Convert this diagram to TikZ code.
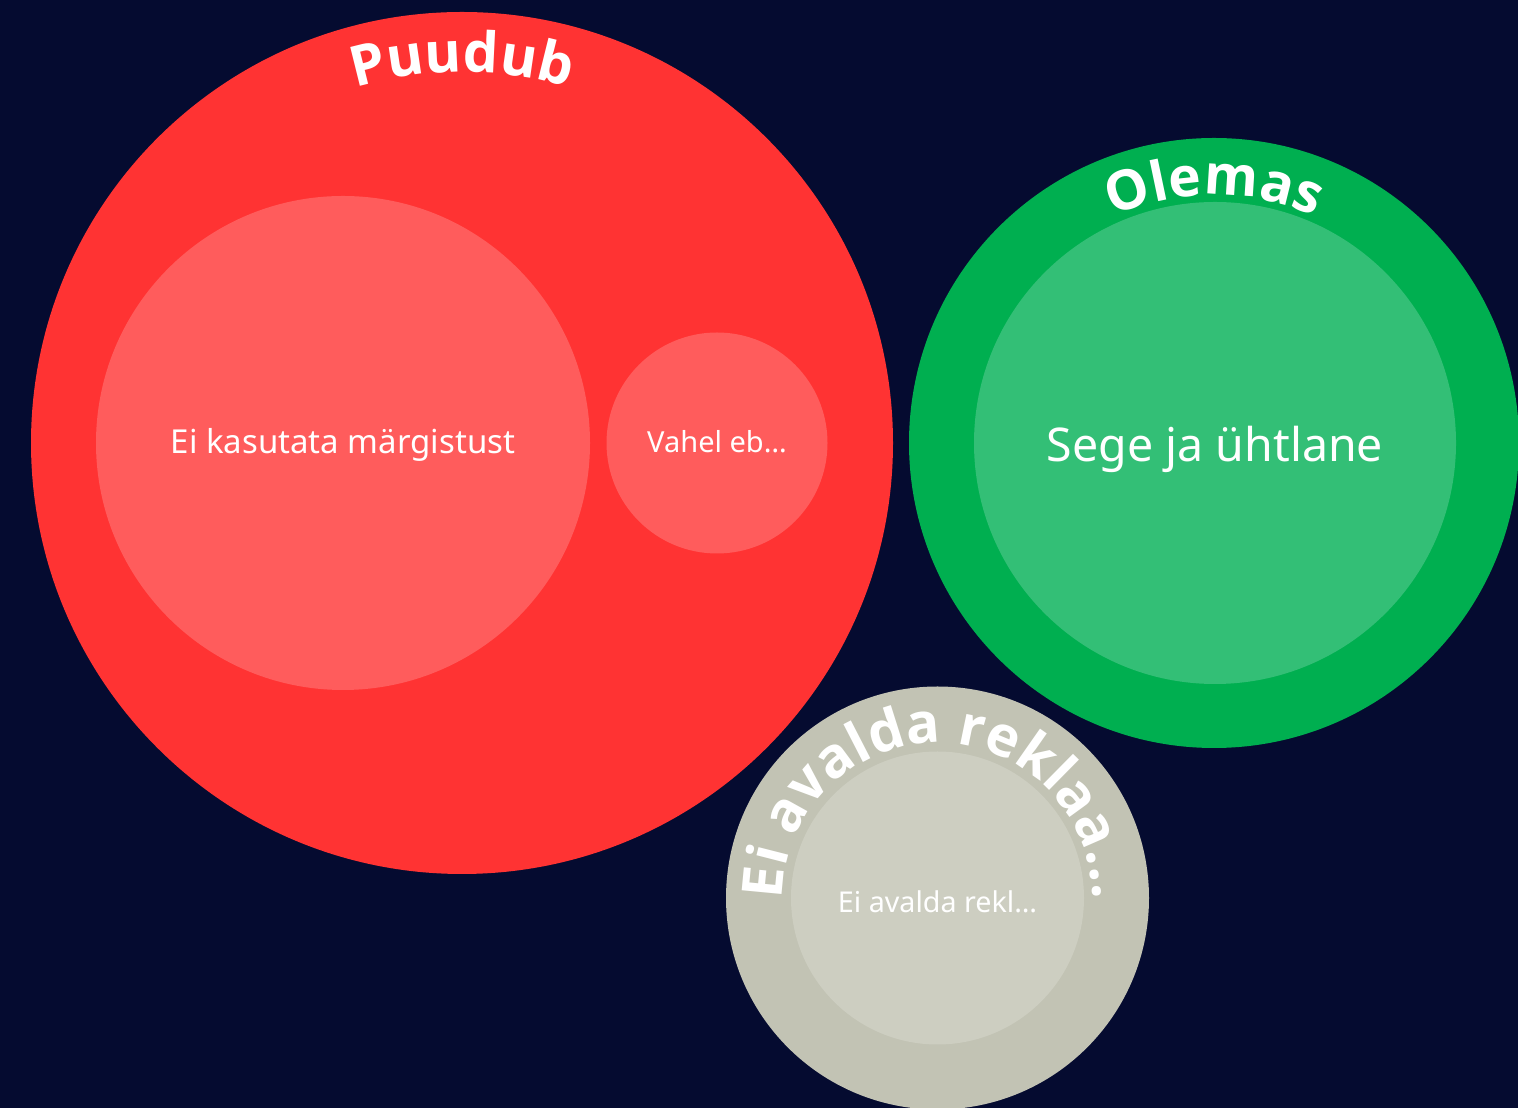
\documentclass[tikz,border=0pt]{standalone}
\usepackage{fontspec}
\setmainfont{Noto Sans}
\newfontfamily\arcfont{Open Sans}
\usetikzlibrary{decorations.text}
\definecolor{bg}{HTML}{050B30}
\definecolor{redouter}{HTML}{FF3333}
\definecolor{redinner}{HTML}{FF5C5C}
\definecolor{greenouter}{HTML}{00AF50}
\definecolor{greeninner}{HTML}{33BF76}
\definecolor{grayouter}{HTML}{C2C3B4}
\definecolor{grayinner}{HTML}{CDCEC1}
\tikzset{
  bubble/.style={circle, inner sep=0pt, draw=none, minimum size=#1},
  label/.style={text=white, inner sep=0pt, anchor=base, font=\fontsize{#1}{#1}\selectfont},
  arctext/.style={decorate, decoration={text along path, text align=center, text color=white, text={#1}}}
}
\begin{document}
\begin{tikzpicture}[x=1pt,y=1pt]
\fill[bg] (0,0) rectangle (1518,1108);
\useasboundingbox (0,0) rectangle (1518,1108);
\clip (0,0) rectangle (1518,1108);
% red group
\node[bubble=862, fill=redouter] (puudub) at (462,665) {};
\node[bubble=494, fill=redinner] (eikasutata) at (343,665) {};
\node[bubble=221, fill=redinner] (vahel) at (717,665) {};
% green group
\node[bubble=610, fill=greenouter] (olemas) at (1214,665) {};
\node[bubble=482, fill=greeninner] (sege) at (1215,665) {};
% gray group
\node[bubble=423, fill=grayouter] (eiavalda) at (937.5,210) {};
\node[bubble=293, fill=grayinner] (eiavaldain) at (937.5,210) {};
% inner labels
\node[label=33] (t1) at ([yshift=-11]eikasutata.center) {Ei kasutata märgistust};
\node[label=29] (t2) at ([yshift=-10]vahel.center) {Vahel eb…};
\node[label=46.5] (t3) at ([yshift=-19]sege.center) {Sege ja ühtlane};
\node[label=28.7] (t4) at ([yshift=-15]eiavaldain.center) {Ei avalda rekl…};
% arc labels
\path[arctext={|\arcfont\bfseries\fontsize{56}{56}\selectfont|Puudub}]
  ([shift={(180:371)}]puudub.center) arc[start angle=180, end angle=0, radius=371];
\path[arctext={|\arcfont\bfseries\fontsize{55}{55}\selectfont|Olemas}]
  ([shift={(180:248)}]olemas.center) arc[start angle=180, end angle=0, radius=248];
\path[arctext={|\arcfont\bfseries\fontsize{56}{56}\selectfont|Ei avalda reklaa...}]
  ([shift={(210:155)}]eiavalda.center) arc[start angle=210, end angle=-30, radius=155];
\end{tikzpicture}
\end{document}
